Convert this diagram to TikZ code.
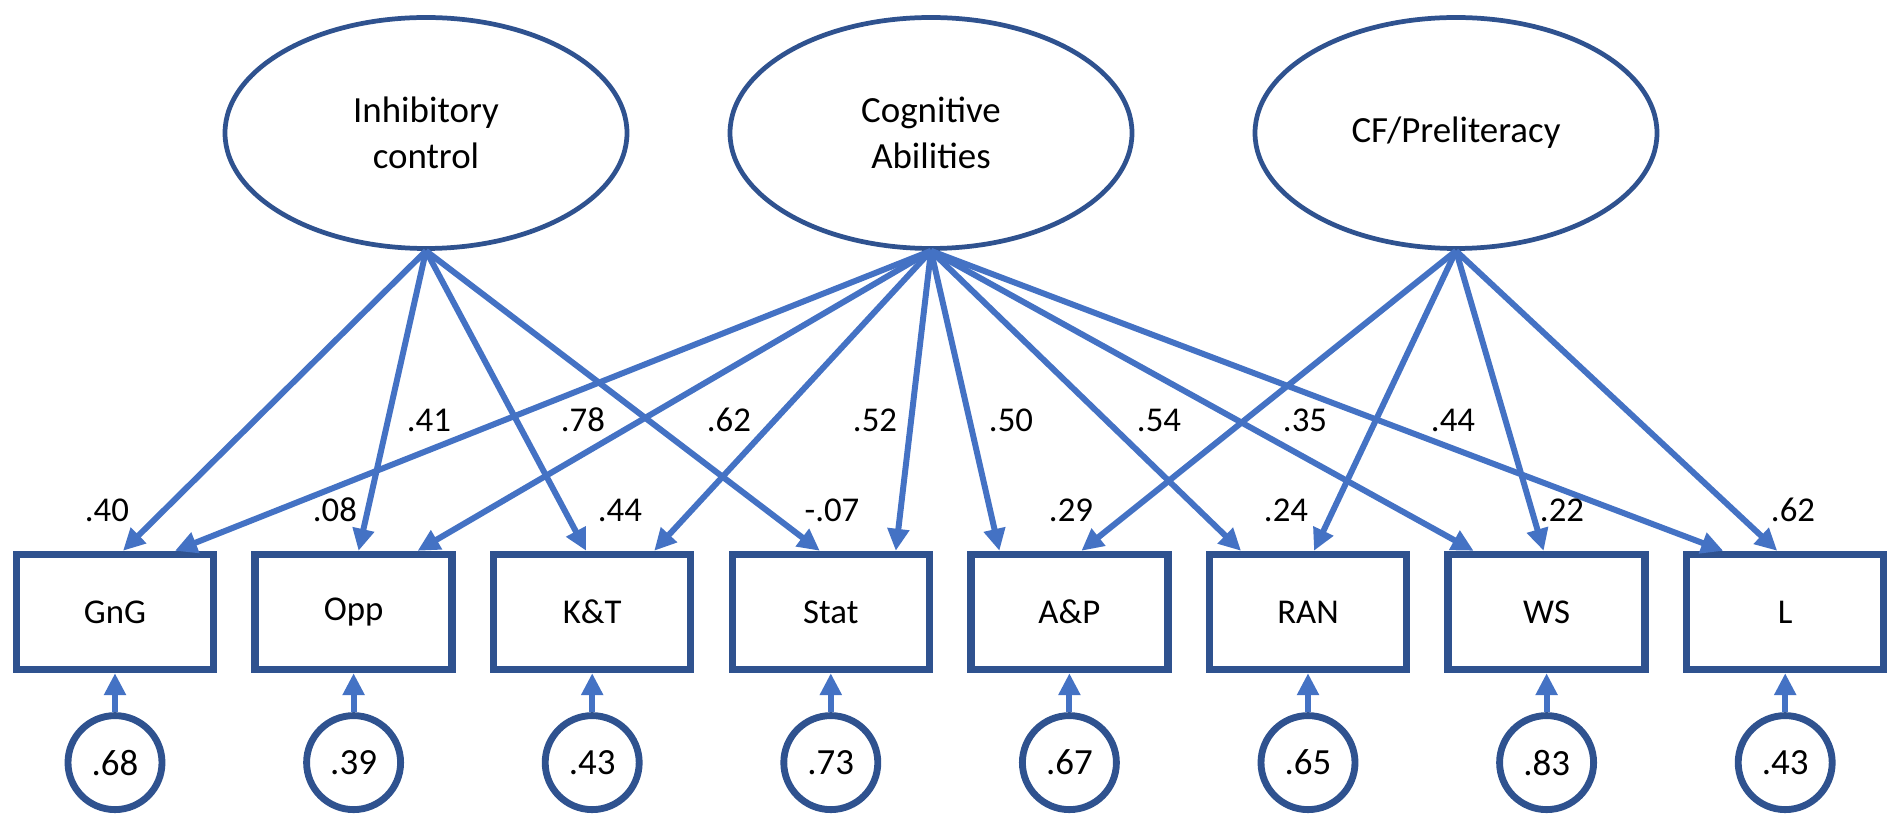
\documentclass[tikz,border=0pt]{standalone}
\usepackage{fontspec}
\setmainfont{Carlito}
\usepackage{tikz}
\usetikzlibrary{arrows.meta}
\usetikzlibrary{positioning}
\usetikzlibrary{shapes.geometric}
\definecolor{navy}{HTML}{2F528F}
\definecolor{accent}{HTML}{4472C4}
\tikzset{lat/.style = {draw=navy, ellipse, line width=1.35pt, minimum width=4.02cm, minimum height=2.31cm, inner sep=0, align=center, font=\fontsize{10.5}{13}\selectfont}}
\tikzset{obs/.style = {draw=navy, rectangle, line width=2.1pt, minimum width=1.97cm, minimum height=1.15cm, font=\fontsize{9.9}{12}\selectfont}}
\tikzset{err/.style = {draw=navy, circle, line width=1.95pt, minimum size=0.94cm, inner sep=0, font=\fontsize{10.5}{12}\selectfont}}
\tikzset{arr/.style = {draw=accent, line width=1.7pt, -{Triangle[length=0.22cm, width=0.21cm]}}}
\tikzset{lbl/.style = {font=\fontsize{9.9}{12}\selectfont}}

\begin{document}
\begin{tikzpicture}
  \useasboundingbox (0, 0) rectangle (19.02, -8.29);

  \node [lat] (ic) at (4.26, -1.33) {Inhibitory\\control};
  \node [lat] (ca) at (9.31, -1.33) {Cognitive\\Abilities};
  \node [lat] (cf) at (14.56, -1.33) {CF/Preliteracy};

  % observed measures with their residuals
  \foreach \name/\lab/\err [count=\i from 0] in {gng/GnG/.68, opp/Opp/.39, kt/K\&T/.43, stat/Stat/.73, ap/A\&P/.67, ran/RAN/.65, ws/WS/.83, l/L/.43} {
    \node [obs] (\name) at (1.15 + 2.386*\i, -6.12) {\lab};
    \node [err, below=0.39 of \name] (e\name) {\err};
    \draw [arr] (e\name) -- (\name);
  }

  % loadings
  \foreach \tgt/\dx in {gng/0.08, opp/0.05, kt/-0.06, stat/-0.11}
    \draw [arr] (ic.south) -- ([xshift=\dx cm]\tgt.north);
  \foreach \tgt/\dx in {gng/0.60, opp/0.64, kt/0.62, stat/0.65, ap/-0.70, ran/-0.67, ws/-0.73, l/-0.62}
    \draw [arr] (ca.south) -- ([xshift=\dx cm]\tgt.north);
  \foreach \tgt/\dx in {ap/0.12, ran/0.06, ws/-0.03, l/-0.08}
    \draw [arr] (cf.south) -- ([xshift=\dx cm]\tgt.north);

  \foreach \x/\y/\val [count=\j] in {4.29/-4.20/.41, 5.83/-4.20/.78, 7.29/-4.20/.62, 8.75/-4.20/.52, 10.11/-4.20/.50, 11.59/-4.20/.54, 13.05/-4.20/.35, 14.53/-4.20/.44, 1.07/-5.10/.40, 3.35/-5.10/.08, 6.20/-5.10/.44, 8.32/-5.10/-.07, 10.71/-5.10/.29, 12.86/-5.10/.24, 15.62/-5.10/.22, 17.93/-5.10/.62}
    \node [lbl] (w\j) at (\x, \y) {\val};
\end{tikzpicture}
\end{document}
